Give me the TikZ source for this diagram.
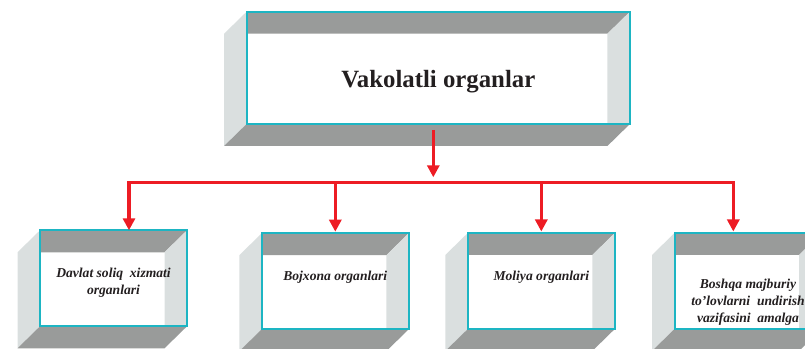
\documentclass[tikz,border=0pt]{standalone}
\usepackage{fontspec}
\setmainfont{Liberation Serif}
\usetikzlibrary{positioning,backgrounds,arrows.meta}

\definecolor{cyanline}{HTML}{1DB5C3}
\definecolor{redline}{HTML}{ED1C24}
\definecolor{panelgray}{HTML}{999B9A}
\definecolor{panellight}{HTML}{DADFDF}
\definecolor{inkblack}{HTML}{231F20}

\tikzset{
  front/.style={draw=cyanline, line width=2pt, outer sep=0pt, inner sep=0pt,
    minimum width=147pt, minimum height=96pt},
  boxtext/.style={font=\fontsize{13.6}{17}\selectfont\bfseries\itshape,
    align=center, inner sep=0pt, text=inkblack},
  headtext/.style={font=\fontsize{24.8}{29}\selectfont\bfseries, inner sep=0pt, text=inkblack},
  redarrow/.style={draw=redline, line width=3.6pt, line join=miter,
    -{Triangle[width=12pt,length=12pt]}},
  darkpanel/.style={fill=panelgray},
  lightpanel/.style={fill=panellight}
}

\begin{document}
\begin{tikzpicture}[x=1pt, y=1pt]
\useasboundingbox (0,0) rectangle (805,348);
% front faces
\node[front, minimum width=383.3pt, minimum height=112.3pt] (vakolat) at (438.3,280.2) {};
\node[front] (soliq) at (113.5,69.7) {};
\node[front] (bojxona) at (335.3,66.8) {};
\node[front] (moliya) at (541.3,67) {};
\node[front] (boshqa) at (748,67) {};
% texts
\node[headtext, below=58.5pt of vakolat.north] (vakolattext) {Vakolatli organlar};
\node[boxtext, below=38pt of soliq.north] (soliqtext) {Davlat soliq~~xizmati\\organlari};
\node[boxtext, below=37.4pt of bojxona.north] (bojxonatext) {Bojxona organlari};
\node[boxtext, below=38.3pt of moliya.north] (moliyatext) {Moliya organlari};
\node[boxtext, below=45.4pt of boshqa.north] (boshqatext) {Boshqa majburiy\\to’lovlarni~~undirish\\vazifasini~~amalga};
% side panels
\begin{scope}[on background layer]
\foreach \nm in {vakolat,soliq,bojxona,moliya,boshqa}{
  \fill[darkpanel] (\nm.north west) -- (\nm.north east) -- ([shift={(-22.5,-22)}]\nm.north east) -- ([yshift=-22]\nm.north west) -- cycle;
  \fill[lightpanel] (\nm.north east) -- (\nm.south east) -- ([xshift=-22.5]\nm.south east) -- ([shift={(-22.5,-22)}]\nm.north east) -- cycle;
  \fill[lightpanel] (\nm.north west) -- (\nm.south west) -- ([shift={(-22.5,-22)}]\nm.south west) -- ([shift={(-22.5,-22)}]\nm.north west) -- cycle;
  \fill[darkpanel] (\nm.south west) -- (\nm.south east) -- ([shift={(-22.5,-22)}]\nm.south east) -- ([shift={(-22.5,-22)}]\nm.south west) -- cycle;
}
\end{scope}
% connectors
\coordinate (hub) at (433.3,165.3);
\coordinate (busl) at (129,165.3);
\coordinate (busr) at (733.3,165.3);
\draw[redarrow, shorten >=5.4pt] ([xshift=-5pt,yshift=-6pt]vakolat.south) -- (hub);
\draw[redarrow, {Triangle[width=12pt,length=12pt]}-{Triangle[width=12pt,length=12pt]}, shorten >=1.5pt]
  (busl |- soliq.north) -- (busl) -- (busr) -- (busr |- boshqa.north);
\draw[redarrow, shorten >=1.5pt] (bojxona.north |- hub) -- (bojxona.north);
\draw[redarrow, shorten >=1.5pt] (moliya.north |- hub) -- (moliya.north);
\end{tikzpicture}
\end{document}
